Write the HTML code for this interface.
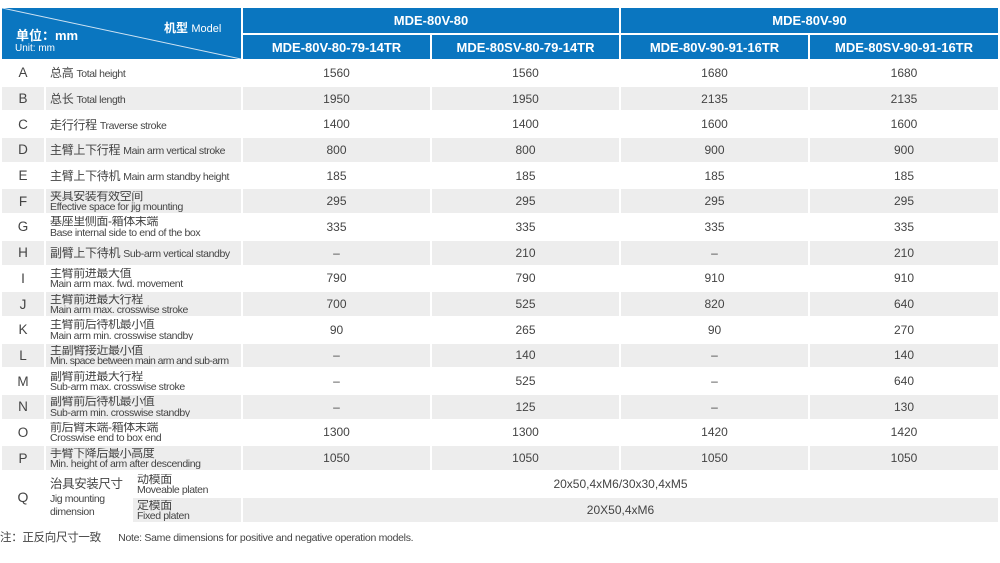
<!DOCTYPE html>
<html><head><meta charset="utf-8"><style>
body{margin:0;width:1000px;height:563px;background:#fff;overflow:hidden;font-family:"Liberation Sans","Noto Sans CJK SC",sans-serif;color:#444;position:relative}
table{position:absolute;left:0;top:6px;border-collapse:separate;border-spacing:2px;table-layout:fixed}
td{padding:0;font-size:12px;text-align:center;vertical-align:middle;overflow:hidden;white-space:nowrap}
tr.h td{background:#0a76c0;color:#fff;font-weight:bold;font-size:13px}
tr.g td{background:#ededed}
tr.d td{height:23.7px;max-height:23.7px}
td.l{font-size:13.5px}
td.s{text-align:left;font-size:12px;padding-left:4px;letter-spacing:-0.3px}
td.s span{font-size:10.5px;letter-spacing:-0.4px}
td.t{text-align:left;font-size:12px;padding-left:4px;line-height:10.5px;letter-spacing:-0.4px}
td.t span{font-size:10.5px;line-height:10.5px}
td.t div{height:21px;overflow:hidden}
.note{position:absolute;left:0;top:529px;font-size:11.5px;letter-spacing:-0.3px}
.ov{position:absolute;color:#fff;white-space:nowrap}
</style></head><body>
<table>
<colgroup><col style="width:42px"><col style="width:85px"><col style="width:108px"><col style="width:187px"><col style="width:187px"><col style="width:187px"><col style="width:188px"></colgroup>
<tr class="h"><td colspan="3" rowspan="2" style="height:51px"></td><td colspan="2" style="height:25px">MDE-80V-80</td><td colspan="2">MDE-80V-90</td></tr>
<tr class="h"><td style="height:24px">MDE-80V-80-79-14TR</td><td>MDE-80SV-80-79-14TR</td><td>MDE-80V-90-91-16TR</td><td>MDE-80SV-90-91-16TR</td></tr>
<tr class="d"><td class="l">A</td><td class="s" colspan="2">总高 <span>Total height</span></td><td>1560</td><td>1560</td><td>1680</td><td>1680</td></tr>
<tr class="d g"><td class="l">B</td><td class="s" colspan="2">总长 <span>Total length</span></td><td>1950</td><td>1950</td><td>2135</td><td>2135</td></tr>
<tr class="d"><td class="l">C</td><td class="s" colspan="2">走行行程 <span>Traverse stroke</span></td><td>1400</td><td>1400</td><td>1600</td><td>1600</td></tr>
<tr class="d g"><td class="l">D</td><td class="s" colspan="2">主臂上下行程 <span>Main arm vertical stroke</span></td><td>800</td><td>800</td><td>900</td><td>900</td></tr>
<tr class="d"><td class="l">E</td><td class="s" colspan="2">主臂上下待机 <span>Main arm standby height</span></td><td>185</td><td>185</td><td>185</td><td>185</td></tr>
<tr class="d g"><td class="l">F</td><td class="t" colspan="2"><div>夹具安装有效空间<br><span>Effective space for jig mounting</span></div></td><td>295</td><td>295</td><td>295</td><td>295</td></tr>
<tr class="d"><td class="l">G</td><td class="t" colspan="2"><div>基座里侧面-箱体末端<br><span>Base internal side to end of the box</span></div></td><td>335</td><td>335</td><td>335</td><td>335</td></tr>
<tr class="d g"><td class="l">H</td><td class="s" colspan="2">副臂上下待机 <span>Sub-arm vertical standby</span></td><td>–</td><td>210</td><td>–</td><td>210</td></tr>
<tr class="d"><td class="l">I</td><td class="t" colspan="2"><div>主臂前进最大值<br><span>Main arm max. fwd. movement</span></div></td><td>790</td><td>790</td><td>910</td><td>910</td></tr>
<tr class="d g"><td class="l">J</td><td class="t" colspan="2"><div>主臂前进最大行程<br><span>Main arm max. crosswise stroke</span></div></td><td>700</td><td>525</td><td>820</td><td>640</td></tr>
<tr class="d"><td class="l">K</td><td class="t" colspan="2"><div>主臂前后待机最小值<br><span>Main arm min. crosswise standby</span></div></td><td>90</td><td>265</td><td>90</td><td>270</td></tr>
<tr class="d g"><td class="l">L</td><td class="t" colspan="2"><div>主副臂接近最小值<br><span style="letter-spacing:-0.6px">Min. space between main arm and sub-arm</span></div></td><td>–</td><td>140</td><td>–</td><td>140</td></tr>
<tr class="d"><td class="l">M</td><td class="t" colspan="2"><div>副臂前进最大行程<br><span>Sub-arm max. crosswise stroke</span></div></td><td>–</td><td>525</td><td>–</td><td>640</td></tr>
<tr class="d g"><td class="l">N</td><td class="t" colspan="2"><div>副臂前后待机最小值<br><span>Sub-arm min. crosswise standby</span></div></td><td>–</td><td>125</td><td>–</td><td>130</td></tr>
<tr class="d"><td class="l">O</td><td class="t" colspan="2"><div>前后臂末端-箱体末端<br><span>Crosswise end to box end</span></div></td><td>1300</td><td>1300</td><td>1420</td><td>1420</td></tr>
<tr class="d g"><td class="l">P</td><td class="t" colspan="2"><div>手臂下降后最小高度<br><span>Min. height of arm after descending</span></div></td><td>1050</td><td>1050</td><td>1050</td><td>1050</td></tr>
<tr><td class="l" rowspan="2" style="font-size:14px">Q</td><td class="t" rowspan="2" style="line-height:12px"><span style="font-size:12.5px;line-height:16px">治具安装尺寸</span><br><span style="line-height:12px;font-size:10.5px">Jig mounting<br>dimension</span></td><td class="t" style="height:24px"><div>动模面<br><span>Moveable platen</span></div></td><td colspan="4">20x50,4xM6/30x30,4xM5</td></tr>
<tr><td class="t" style="height:24px;background:#ededed"><div>定模面<br><span>Fixed platen</span></div></td><td colspan="4" style="background:#ededed">20X50,4xM6</td></tr>
</table>
<svg width="239" height="51" style="position:absolute;left:2px;top:8px"><line x1="0" y1="0" x2="239" y2="51" stroke="#cfe3f3" stroke-width="1"/></svg>
<div class="ov" style="left:164px;top:19px;font-size:12px;font-weight:bold">机型 <span style="font-weight:normal;font-size:11px">Model</span></div>
<div class="ov" style="left:16px;top:25px;font-size:13px;font-weight:bold">单位：mm</div>
<div class="ov" style="left:15px;top:43px;font-size:10px">Unit: mm</div>
<div class="note">注：正反向尺寸一致 &nbsp;&nbsp;&nbsp;&nbsp;&nbsp;<span style="font-size:10.5px">Note: Same dimensions for positive and negative operation models.</span></div>
</body></html>
